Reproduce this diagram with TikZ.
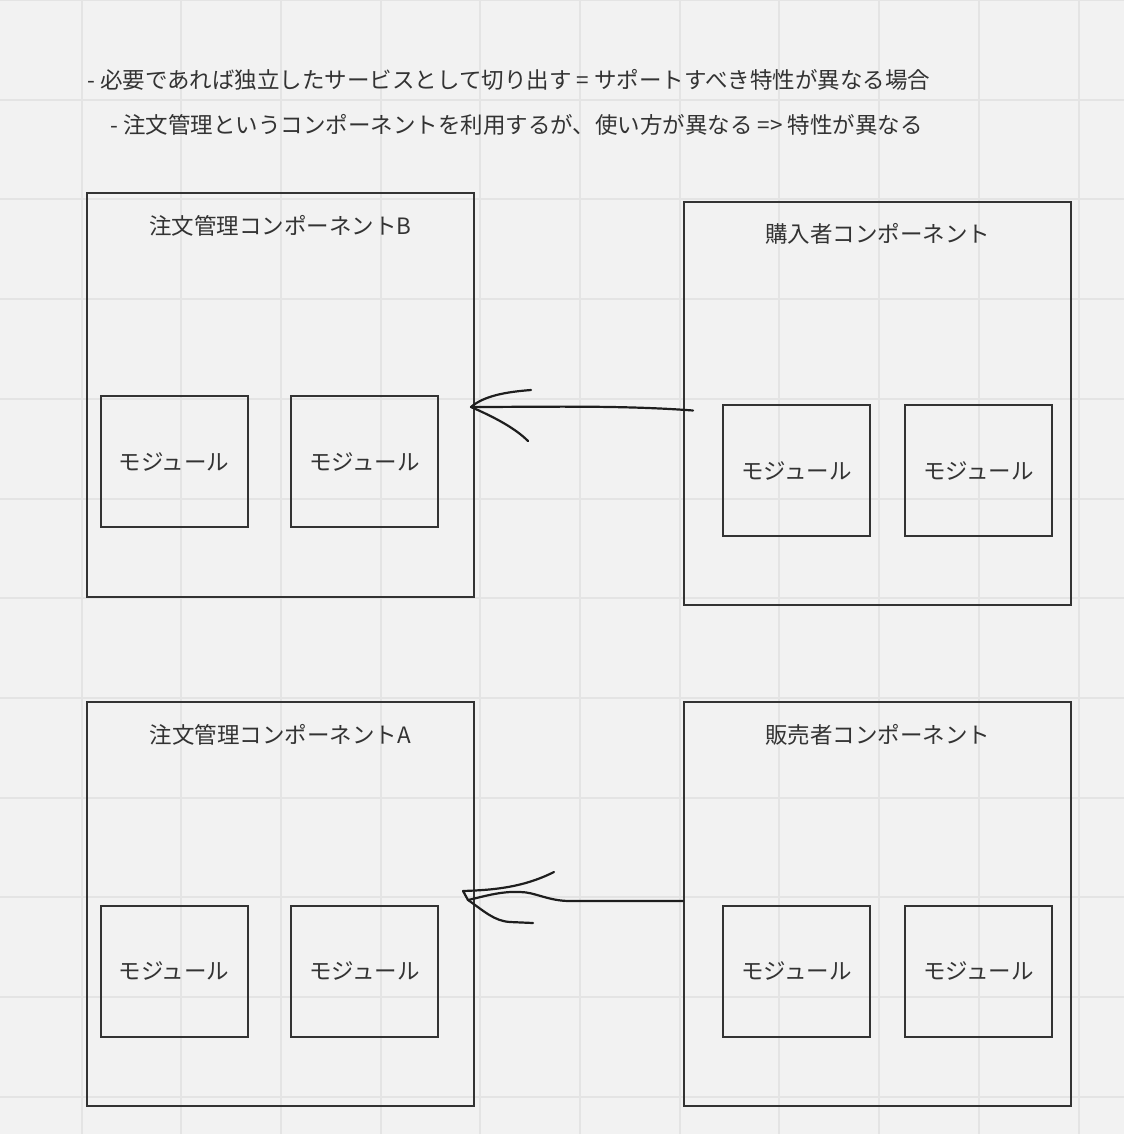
\documentclass[tikz,border=0pt]{standalone}
\usepackage{fontspec}
\setmainfont{Noto Sans CJK JP}
\usetikzlibrary{calc}
\definecolor{paper}{HTML}{F2F2F2}
\definecolor{gridline}{HTML}{E4E4E4}
\definecolor{ink}{HTML}{333333}
\definecolor{pen}{HTML}{1E1E1E}
\tikzset{
  comp/.style={draw=ink,line width=2pt,minimum width=387pt,minimum height=404pt,inner sep=0pt},
  module/.style={draw=ink,line width=2pt,minimum width=147pt,minimum height=131pt,inner sep=0pt,
    font=\fontsize{22.5}{27}\selectfont,text=ink},
  ctitle/.style={font=\fontsize{22.5}{27}\selectfont,text=ink,inner sep=0pt},
  note/.style={font=\fontsize{22.5}{27}\selectfont,text=ink,inner sep=0pt,anchor=west},
  pencil/.style={draw=pen,line width=2.2pt,line cap=round,line join=round}
}

\begin{document}
\begin{tikzpicture}[x=1pt,y=-1pt]
  % Constants
  \pgfmathsetmacro\gs{99.7}
  \pgfmathsetmacro\gx{81.5}
  % Boundary
  \fill[paper] (0,0) rectangle (1124,1134);
  \path[use as bounding box] (0,0) rectangle (1124,1134);
  % Grid
  \foreach \i in {0,...,10} {
    \draw[gridline,line width=2pt] (\gx+\i*\gs,0) -- (\gx+\i*\gs,1134);
  }
  \foreach \j in {0,...,11} {
    \draw[gridline,line width=2pt] (0,\j*\gs) -- (1124,\j*\gs);
  }
  % Notes
  \node[note] (note1) at (87,80) {- 必要であれば独立したサービスとして切り出す = サポートすべき特性が異なる場合};
  \node[note] (note2) at (110,125) {- 注文管理というコンポーネントを利用するが、使い方が異なる => 特性が異なる};
  % Components
  \node[comp] (ordB) at (280.5,395) {};
  \node[comp,minimum height=403pt] (buyer) at (877.5,403.5) {};
  \node[comp] (ordA) at (280.5,904) {};
  \node[comp] (seller) at (877.5,904) {};
  \node[ctitle] (ordBtitle) at ($(ordB.north)+(0,34)$) {注文管理コンポーネントB};
  \node[ctitle] (buyertitle) at ($(buyer.north)+(0,33)$) {購入者コンポーネント};
  \node[ctitle] (ordAtitle) at ($(ordA.north)+(0,34)$) {注文管理コンポーネントA};
  \node[ctitle] (sellertitle) at ($(seller.north)+(0,34)$) {販売者コンポーネント};
  % Modules
  \node[module] (ordBm1) at (174,461.5) {モジュール};
  \node[module] (ordBm2) at (364.5,461.5) {モジュール};
  \node[module] (buyerm1) at (796.5,470.5) {モジュール};
  \node[module] (buyerm2) at (978.5,470.5) {モジュール};
  \node[module] (ordAm1) at (174,971) {モジュール};
  \node[module] (ordAm2) at (364.5,971) {モジュール};
  \node[module] (sellerm1) at (796.5,971) {モジュール};
  \node[module] (sellerm2) at (978.5,971) {モジュール};
  % Hand drawn arrow buyer -> B
  \coordinate (tailB) at ($(buyer.west)+(10,7)$);
  \coordinate (tipB) at ($(ordB.east)+(-4,12)$);
  \draw[pencil] (tailB) .. controls (620,405) and (540,407) .. (tipB);
  \draw[pencil] (tipB) .. controls (484,396) and (505,392) .. (531,390);
  \draw[pencil] (tipB) .. controls (494,417) and (515,428) .. (528,441);
  % Hand drawn arrow seller -> A
  \coordinate (tailA) at ($(seller.west)+(0,-3)$);
  \coordinate (tipA) at ($(ordA.east)+(-7,-4)$);
  \draw[pencil] (tailA) -- (570,901) .. controls (548,901) and (535,892) .. (520,892)
    .. controls (500,891) and (482,897) .. (tipA);
  \draw[pencil] (tipA) -- (463,891) .. controls (492,890) and (522,888) .. (554,872);
  \draw[pencil] (tipA) .. controls (484,911) and (494,921) .. (510,922) -- (533,923);
\end{tikzpicture}
\end{document}
